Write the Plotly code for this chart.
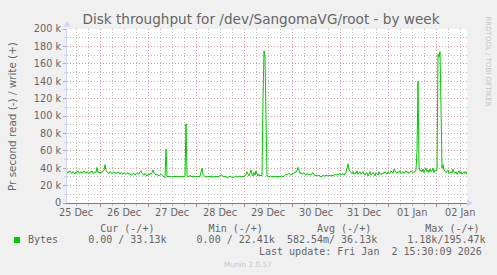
import plotly.graph_objects as go
import pandas as pd

# ---------------- data ----------------
start_time = "2025-12-25 07:30"
end_time = "2026-01-02 15:30"
step_minutes = 30

# write throughput, thousands of bytes per second, one value per 30 minutes
bytes_k = [
    34, 36, 35, 37, 35, 34, 36, 35, 33, 36, 35, 37, 34, 35, 36, 34, 35, 37, 35, 34,
    36, 35, 34, 36, 35, 37, 34, 35, 36, 35,
    41,
    35, 36, 34, 36, 35, 37,
    38, 44, 37,
    36, 35, 34, 36, 35, 34, 35, 36, 34, 35, 34, 36, 35, 33, 35, 34, 33, 35, 34, 33,
    34, 35, 33, 34, 32, 33,
    33, 34, 32, 33, 35, 34, 33, 36, 37,
    34, 33, 32, 34, 33, 31, 33, 32, 34, 33, 35,
    38, 35,
    33, 32, 33, 32, 31, 32, 33, 32, 31, 30,
    29, 62,
    31, 30, 31, 30, 31, 30, 30, 31, 30, 31, 30, 31, 30, 30, 31, 30, 31, 30,
    31, 91, 31,
    31, 30, 32, 31, 30, 31, 30, 30, 31, 30, 31, 30, 31,
    36, 40, 33,
    31, 30, 31, 30, 30, 31, 30, 31, 31, 30, 30, 31, 30, 31, 30, 31, 31,
    32.5, 31.5,
    30, 30, 31, 30, 29, 30, 30, 31, 30, 30, 29, 30, 30, 31, 30, 30, 31, 30, 30, 31,
    30, 31,
    31, 33, 36, 33, 31, 34, 38, 33, 31, 35, 32, 37, 33, 31, 33, 31, 32, 31,
    120, 175, 168, 100, 31,
    31, 30, 31, 31, 30, 31, 30, 31, 31, 30, 30, 31, 30, 31, 31, 30, 31,
    32, 33, 32, 33, 34, 33, 32, 34, 33, 34,
    36, 35, 37, 41, 36, 34,
    35, 33, 34, 35, 33, 32, 34, 33, 32, 33, 32, 34,
    35, 33,
    31, 32, 31, 31, 32, 31, 30, 31, 32, 31, 31, 32, 31, 31, 32, 31, 31, 32, 31, 32,
    33, 32, 33, 32, 33, 34, 32, 33, 34, 32, 33, 35,
    40, 45, 38, 36,
    35, 34, 36, 33, 35, 34, 37, 33, 35, 36, 33, 34, 36, 33,
    32, 34, 35, 31, 33, 36, 32, 34, 35, 33, 31, 35, 34, 32, 36, 33, 34, 33,
    35, 34, 36, 35, 33, 36, 35, 34, 37, 35, 34, 39, 36, 35, 34, 36, 35, 37, 34, 35,
    36, 34, 35, 37, 35, 36, 34, 35, 37, 36, 35, 36,
    36, 38, 60, 140, 42, 37,
    38, 36, 39, 35, 37, 40, 36, 38, 35, 39, 36, 37, 40, 35, 38, 37,
    38, 171, 168, 174, 110, 40, 44, 38,
    37, 35, 36, 38, 34, 35, 36, 34, 39, 35, 34, 36, 33, 35, 37, 34, 36, 33, 35, 36,
    34, 36, 33,
]

day_dates = ["2025-12-25", "2025-12-26", "2025-12-27", "2025-12-28", "2025-12-29",
             "2025-12-30", "2025-12-31", "2026-01-01", "2026-01-02"]
day_labels = ["25 Dec", "26 Dec", "27 Dec", "28 Dec", "29 Dec",
              "30 Dec", "31 Dec", "01 Jan", "02 Jan"]

y_ticks = [0, 20000, 40000, 60000, 80000, 100000, 120000, 140000, 160000, 180000, 200000]
y_tick_text = ["0", "20 k", "40 k", "60 k", "80 k", "100 k", "120 k", "140 k",
               "160 k", "180 k", "200 k"]

title_text = "Disk throughput for /dev/SangomaVG/root - by week"
y_title = "Pr second read (-) / write (+)"
series_name = "Bytes"
legend_cur = "0.00 / 33.13k"
legend_min = "0.00 / 22.41k"
legend_avg = "582.54m/ 36.13k"
legend_max = "1.18k/195.47k"
last_update = "Last update: Fri Jan  2 15:30:09 2026"
watermark = "Munin 2.0.57"
side_text = "RRDTOOL / TOBI OETIKER"

# ---------------- geometry / style ----------------
W, H = 497, 275
ML, MR, MT, MB = 67, 30, 29, 72
PW = W - ML - MR
PH = H - MT - MB


def px(x):
    return (x - ML) / PW


def py(y):
    return (H - MB - y) / PH


FONT = "#666666"
MAJOR = "#E99898"
MINOR = "#BDBDBD"
AXIS = "#CFD6F8"
GREEN = "#00CC00"
DASH = "1px,2px"

times = pd.date_range(start=start_time, periods=len(bytes_k), freq=f"{step_minutes}min")
values = [v * 1000 for v in bytes_k]

midnights = [pd.Timestamp(d) for d in day_dates[1:]]
noons = [pd.Timestamp(d) + pd.Timedelta(hours=12) for d in day_dates]

fig = go.Figure()
fig.add_trace(go.Scatter(x=times, y=values, mode="lines", name=series_name,
                         line=dict(color=GREEN, width=1), hoverinfo="skip",
                         showlegend=False))

fig.update_layout(
    width=W, height=H, autosize=False,
    margin=dict(l=ML, r=MR, t=MT, b=MB, pad=0),
    paper_bgcolor="#F0F0F0", plot_bgcolor="#FFFFFF",
    hovermode=False, showlegend=False,
    title=dict(text=title_text, x=261 / W, xref="container", xanchor="center",
               y=1 - 19 / H, yref="container", yanchor="middle",
               font=dict(family="DejaVu Sans", size=13.6, color=FONT)),
    xaxis=dict(type="date", range=[start_time, end_time],
               tickmode="array", tickvals=midnights, showticklabels=False,
               showgrid=True, gridcolor=MAJOR, griddash=DASH, gridwidth=1,
               ticks="outside", ticklen=3, tickcolor="#999",
               minor=dict(tickmode="linear", tick0="2025-12-25", dtick=6 * 3600 * 1000,
                          showgrid=True, gridcolor=MINOR, griddash=DASH, gridwidth=1,
                          ticks="outside", ticklen=2, tickcolor="#BBB"),
               showline=True, linecolor="#7E7898", linewidth=1, zeroline=False),
    yaxis=dict(range=[0, 200000], tickmode="array", tickvals=y_ticks, ticktext=y_tick_text,
               showgrid=True, gridcolor=MAJOR, griddash=DASH, gridwidth=1,
               ticks="outside", ticklen=3, tickcolor="#AAA",
               minor=dict(tickmode="linear", tick0=0, dtick=10000,
                          showgrid=True, gridcolor=MINOR, griddash=DASH, gridwidth=1,
                          ticks="outside", ticklen=2, tickcolor="#CCC"),
               showline=True, linecolor=AXIS, linewidth=1, zeroline=False,
               tickfont=dict(family="DejaVu Sans", size=9.7, color=FONT)),
)

NB = "\u00a0"
header = (NB * 12 + "Cur (-/+)" + NB * 9 + "Min (-/+)" + NB * 9 + "Avg (-/+)"
          + NB * 9 + "Max (-/+)")
row = (series_name + NB * 5 + legend_cur + NB * 5 + legend_min + NB * 2 + legend_avg
       + NB * 5 + legend_max)
mono = dict(family="DejaVu Sans Mono", size=10, color=FONT)

ann = [
    dict(text=y_title, x=px(12), y=py(117), textangle=-90,
         font=dict(family="DejaVu Sans", size=10.4, color=FONT)),
    dict(text=header, x=px(26), y=py(228), xanchor="left", font=mono),
    dict(text=row, x=px(26), y=py(239.7), xanchor="left", font=mono),
    dict(text=last_update.replace(" ", NB), x=px(484), y=py(251), xanchor="right", font=mono),
    dict(text=watermark, x=px(247.5), y=py(264.5),
         font=dict(family="DejaVu Sans", size=7.3, color="#C8C8C8")),
    dict(text=side_text, x=px(487.5), y=py(61), textangle=90,
         font=dict(family="DejaVu Sans", size=7, color="#C4C4C4")),
]
for a in ann:
    a.setdefault("xanchor", "center")
    a.update(xref="paper", yref="paper", showarrow=False, yanchor="middle")
for d, lab in zip(noons, day_labels):
    ann.append(dict(text=lab, x=d, xref="x", y=py(212), yref="paper", showarrow=False,
                    xanchor="center", yanchor="middle",
                    font=dict(family="DejaVu Sans", size=9.7, color=FONT)))
fig.update_layout(annotations=ann)

shapes = [
    dict(type="rect", xref="paper", yref="paper", x0=px(14), x1=px(20), y0=py(243), y1=py(237),
         fillcolor=GREEN, line=dict(width=0)),
    dict(type="path", xref="paper", yref="paper",
         path=f"M {px(63.5)},{py(26.5)} L {px(70.5)},{py(26.5)} L {px(67)},{py(21)} Z",
         fillcolor=AXIS, line=dict(width=0)),
    dict(type="path", xref="paper", yref="paper",
         path=f"M {px(467)},{py(199.5)} L {px(467)},{py(206.5)} L {px(473)},{py(203)} Z",
         fillcolor=AXIS, line=dict(width=0)),
]
fig.update_layout(shapes=shapes)

fig.write_html("out.html")
